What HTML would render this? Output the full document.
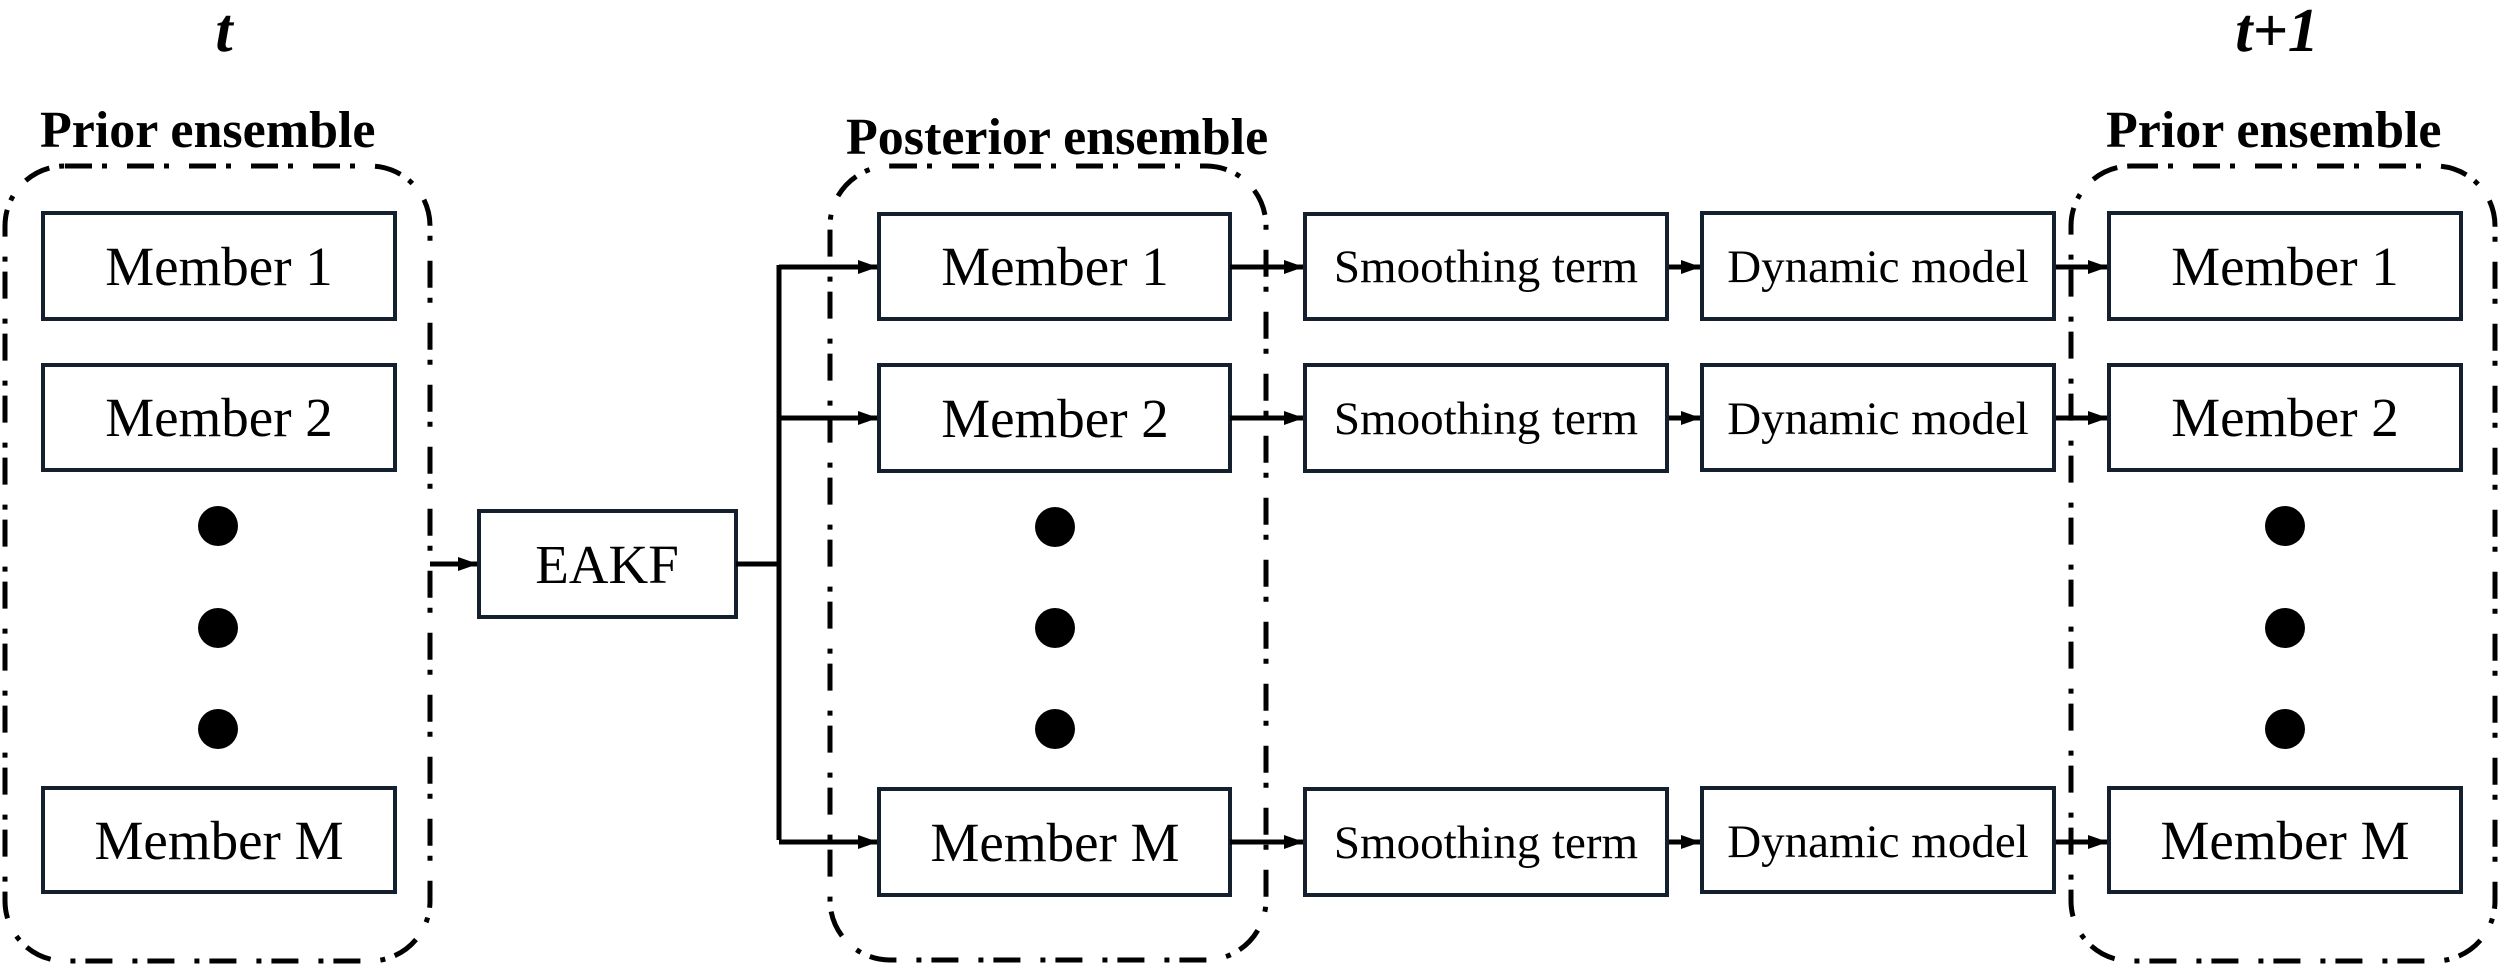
<!DOCTYPE html>
<html><head><meta charset="utf-8"><style>
html,body{margin:0;padding:0;background:#fff;}
svg{display:block;}
text{font-family:"Liberation Serif",serif;fill:#000;}
.m{font-size:55px;text-anchor:middle;}
.s{font-size:47px;text-anchor:middle;}
.h{font-size:52px;font-weight:bold;}
.b{fill:#fff;stroke:#14202e;stroke-width:4;}
.d{fill:none;stroke:#000;stroke-width:5;stroke-dasharray:27 10 5 20;}
.l{stroke:#000;stroke-width:5;fill:none;}
</style></head><body>
<svg width="2500" height="967" viewBox="0 0 2500 967" xmlns="http://www.w3.org/2000/svg">
<defs><marker id="a" markerWidth="10" markerHeight="8" refX="9" refY="4" orient="auto" markerUnits="userSpaceOnUse"><path d="M0,0 L10,4 L0,8 z" fill="#000"/></marker>
<marker id="A" markerWidth="20" markerHeight="14" refX="19" refY="7" orient="auto" markerUnits="userSpaceOnUse"><path d="M0,0 L20,7 L0,14 z" fill="#000"/></marker></defs>

<text x="224" y="51" style="font-size:62px;font-weight:bold;font-style:italic;" text-anchor="middle">t</text>
<text x="2277" y="51" style="font-size:62px;font-weight:bold;font-style:italic;" text-anchor="middle">t+1</text>

<text class="h" x="40" y="147">Prior ensemble</text>
<text class="h" x="846" y="154">Posterior ensemble</text>
<text class="h" x="2106" y="147">Prior ensemble</text>

<rect class="d" x="5" y="166" width="425" height="795" rx="60"/>
<rect class="d" x="830" y="166" width="436" height="794" rx="60"/>
<rect class="d" x="2071" y="166" width="424" height="795" rx="60"/>

<!-- left prior -->
<rect class="b" x="43" y="213" width="352" height="106"/><text class="m" x="219" y="285">Member 1</text>
<rect class="b" x="43" y="365" width="352" height="105"/><text class="m" x="219" y="436">Member 2</text>
<rect class="b" x="43" y="788" width="352" height="104"/><text class="m" x="219" y="859">Member M</text>
<circle cx="218" cy="526" r="20"/><circle cx="218" cy="628" r="20"/><circle cx="218" cy="729" r="20"/>

<!-- EAKF -->
<line class="l" x1="430" y1="564" x2="477" y2="564" stroke-width="4" marker-end="url(#A)"/>
<rect class="b" x="479" y="511" width="257" height="106"/><text class="m" x="607" y="583">EAKF</text>
<path class="l" d="M736,564 H779 M779,265 V840"/>
<line class="l" x1="779" y1="267" x2="877" y2="267" marker-end="url(#A)"/>
<line class="l" x1="779" y1="418" x2="877" y2="418" marker-end="url(#A)"/>
<line class="l" x1="779" y1="842" x2="877" y2="842" marker-end="url(#A)"/>

<!-- posterior -->
<rect class="b" x="879" y="214" width="351" height="105"/><text class="m" x="1055" y="285">Member 1</text>
<rect class="b" x="879" y="365" width="351" height="106"/><text class="m" x="1055" y="437">Member 2</text>
<rect class="b" x="879" y="789" width="351" height="106"/><text class="m" x="1055" y="861">Member M</text>
<circle cx="1055" cy="527" r="20"/><circle cx="1055" cy="628" r="20"/><circle cx="1055" cy="729" r="20"/>

<g>
<line class="l" x1="1230" y1="267" x2="1303" y2="267" marker-end="url(#A)"/>
<line class="l" x1="1230" y1="418" x2="1303" y2="418" marker-end="url(#A)"/>
<line class="l" x1="1230" y1="842" x2="1303" y2="842" marker-end="url(#A)"/>
<line class="l" x1="1667" y1="267" x2="1700" y2="267" marker-end="url(#A)"/>
<line class="l" x1="1667" y1="418" x2="1700" y2="418" marker-end="url(#A)"/>
<line class="l" x1="1667" y1="842" x2="1700" y2="842" marker-end="url(#A)"/>
<line class="l" x1="2054" y1="267" x2="2107" y2="267" marker-end="url(#A)"/>
<line class="l" x1="2054" y1="418" x2="2107" y2="418" marker-end="url(#A)"/>
<line class="l" x1="2054" y1="842" x2="2107" y2="842" marker-end="url(#A)"/>
</g>

<rect class="b" x="1305" y="214" width="362" height="105"/><text class="s" x="1486" y="282">Smoothing term</text>
<rect class="b" x="1305" y="365" width="362" height="106"/><text class="s" x="1486" y="434">Smoothing term</text>
<rect class="b" x="1305" y="789" width="362" height="106"/><text class="s" x="1486" y="858">Smoothing term</text>

<rect class="b" x="1702" y="213" width="352" height="106"/><text class="s" x="1878" y="282">Dynamic model</text>
<rect class="b" x="1702" y="365" width="352" height="105"/><text class="s" x="1878" y="434">Dynamic model</text>
<rect class="b" x="1702" y="788" width="352" height="104"/><text class="s" x="1878" y="857">Dynamic model</text>

<!-- right prior -->
<rect class="b" x="2109" y="213" width="352" height="106"/><text class="m" x="2285" y="285">Member 1</text>
<rect class="b" x="2109" y="365" width="352" height="105"/><text class="m" x="2285" y="436">Member 2</text>
<rect class="b" x="2109" y="788" width="352" height="104"/><text class="m" x="2285" y="859">Member M</text>
<circle cx="2285" cy="526" r="20"/><circle cx="2285" cy="628" r="20"/><circle cx="2285" cy="729" r="20"/>
</svg>
</body></html>
